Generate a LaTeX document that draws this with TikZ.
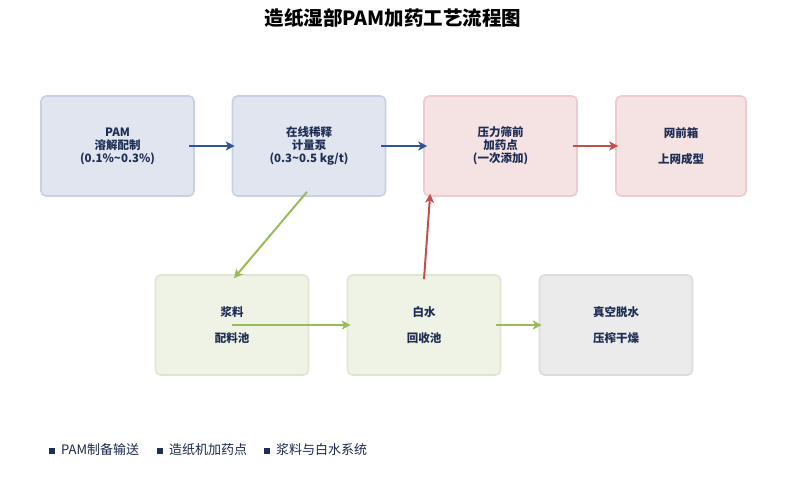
\documentclass[tikz,border=0pt]{standalone}
\usepackage{fontspec}
\setmainfont{Noto Sans CJK SC}
\usetikzlibrary{calc,arrows.meta}
\definecolor{txt}{HTML}{1F2E55}
\definecolor{bfill}{HTML}{E0E5F0}\definecolor{bdraw}{HTML}{C7D1E3}
\definecolor{rfill}{HTML}{F5E2E3}\definecolor{rdraw}{HTML}{EECBCE}
\definecolor{gfill}{HTML}{EFF3E5}\definecolor{gdraw}{HTML}{DFE8CF}
\definecolor{kfill}{HTML}{EBEBEB}\definecolor{kdraw}{HTML}{DCDCDC}
\definecolor{barrow}{HTML}{2F5597}
\definecolor{rarrow}{HTML}{C0504D}
\definecolor{garrow}{HTML}{9BBB59}
\begin{document}
\begin{tikzpicture}[x=1pt,y=-1pt,
  box/.style={rounded corners=5pt, line width=1.6pt, minimum width=153pt, minimum height=100pt,
    align=center, font=\fontsize{11.5}{13}\selectfont\bfseries, text=txt, inner sep=0pt},
  bluebox/.style={box, fill=bfill, draw=bdraw},
  redbox/.style={box, fill=rfill, draw=rdraw},
  greenbox/.style={box, fill=gfill, draw=gdraw},
  graybox/.style={box, fill=kfill, draw=kdraw},
  conn/.style={line width=2pt, -{Stealth[length=9pt,width=9pt,inset=2.5pt]}},
  legsq/.style={fill=txt, minimum size=5.5pt, inner sep=0pt},
  legtxt/.style={anchor=west, font=\fontsize{13}{15}\selectfont, text=txt!90!black, inner sep=0pt}
]
\useasboundingbox[fill=white] (0,0) rectangle (786,486);
\node[font=\fontsize{19.5}{22}\selectfont\bfseries, text=black] (title) at (393,18) {造纸湿部PAM加药工艺流程图};

\node[bluebox] (pam) at (117.5,146) {PAM\\溶解配制\\(0.1\%\textasciitilde0.3\%)};
\node[bluebox] (pump) at (309,146) {在线稀释\\计量泵\\(0.3\textasciitilde0.5 kg/t)};
\node[redbox] (screen) at (500.5,146) {压力筛前\\加药点\\(一次添加)};
\node[redbox, minimum width=130pt] (head) at (681,146) {网前箱\\[13pt]上网成型};
\node[greenbox] (slurry) at (232,325) {浆料\\[13pt]配料池};
\node[greenbox] (white) at (424,325) {白水\\[13pt]回收池};
\node[graybox] (vac) at (616,325) {真空脱水\\[13pt]压榨干燥};

\draw[conn, barrow] ($(pam.east)+(-6,0)$) -- ($(pump.west)+(3,0)$);
\draw[conn, barrow] ($(pump.east)+(-5,0)$) -- ($(screen.west)+(4,0)$);
\draw[conn, rarrow] ($(screen.east)+(-5,0)$) -- ($(head.west)+(3,0)$);
\draw[conn, garrow] ($(pump.south)+(-2,-5)$) -- ($(slurry.north)+(2,4)$);
\draw[conn, rarrow] ($(white.north)+(0,5)$) -- ($(screen.south west)+(7,-3)$);
\draw[conn, garrow] (slurry.center) -- ($(white.west)+(4,0)$);
\draw[conn, garrow] ($(white.east)+(-5,0)$) -- ($(vac.west)+(3,0)$);

\node[legsq] (s1) at (52,451) {};
\node[legtxt] (l1) at (61,450) {PAM制备输送};
\node[legsq] (s2) at (160,451) {};
\node[legtxt] (l2) at (169,450) {造纸机加药点};
\node[legsq] (s3) at (267,451) {};
\node[legtxt] (l3) at (276,450) {浆料与白水系统};
\end{tikzpicture}
\end{document}
